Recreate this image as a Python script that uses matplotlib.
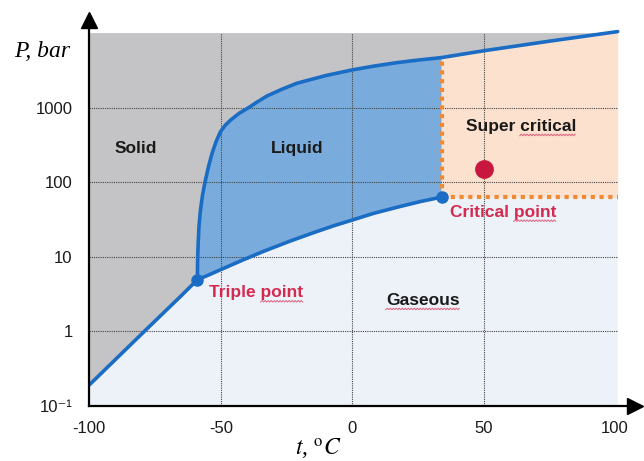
import matplotlib
matplotlib.use("Agg")
import matplotlib.pyplot as plt
from matplotlib.transforms import IdentityTransform
import numpy as np

plt.rcParams['mathtext.fontset'] = 'stix'

# CO2 phase diagram, temperature in degC, pressure in bar
triple_pt = (-58.9, 4.9)
critical_pt = (34.0, 63.0)
marker_pt = (50.0, 150.0)

subl_t = [-100.0, -79.0, -65.0, -58.9]
subl_p = [0.19, 1.0, 3.0, 4.9]

vap_t = [-58.9, -55.0, -50.0, -42.0, -33.7, -24.0, -14.7, -7.0, 0.0, 8.0, 17.0, 26.0, 34.0]
vap_p = [4.9, 5.6, 6.7, 8.9, 11.8, 16.0, 21.0, 26.0, 31.0, 38.0, 46.0, 55.0, 63.0]

melt_t = [-58.9, -58.8, -58.6, -58.3, -57.8, -57.0, -56.0, -54.7, -53.3, -51.8,
          -50.1, -48.3, -46.3, -43.0, -39.4, -36.0, -32.4, -27.0, -21.0, -10.0,
          0.0, 8.0, 17.0, 25.0, 34.0, 50.0, 75.0, 101.0]
melt_p = [4.9, 9.0, 15.0, 25.0, 40.0, 65.0, 100.0, 160.0, 244.0, 350.0,
          476.0, 580.0, 680.0, 840.0, 1000.0, 1200.0, 1435.0, 1750.0, 2130.0, 2700.0,
          3210.0, 3600.0, 4020.0, 4350.0, 4700.0, 5800.0, 7800.0, 10500.0]

x_ticks = [-100, -50, 0, 50, 100]
y_ticks = [0.1, 1, 10, 100, 1000]
y_labels = ['10\u207b\u00b9', '1', '10', '100', '1000']
x_grid = [-50, 0, 50]
y_grid = [1, 10, 100, 1000]

t_min, t_max = -100.0, 101.0
p_min, p_top = 0.1, 1e4

c_gas = '#edf2f8'
c_solid = '#c4c4c6'
c_liquid = '#79acdc'
c_super = '#fce1cf'
c_line = '#1a6cc4'
c_orange = '#ee8a35'
c_red = '#d42a50'

fig = plt.figure(figsize=(6.44, 4.61), dpi=100)
ax = fig.add_axes([0.1387, 0.1200, 0.8474, 0.8367])
ax.set_yscale('log')
ax.set_xlim(-100, 107.6)
ax.set_ylim(0.1, 10 ** 4.177)

# gaseous background
ax.fill_between([t_min, t_max], p_min, p_top, color=c_gas, lw=0, zorder=0)

# solid region: left of sublimation + melting curves
sx = subl_t + melt_t[1:] + [t_max, t_min]
sy = subl_p + melt_p[1:] + [p_top, p_top]
sy = [min(v, p_top) for v in sy]
ax.fill(sx, sy, color=c_solid, lw=0, zorder=1)

# liquid region
melt_t_arr = np.array(melt_t)
melt_p_arr = np.array(melt_p)
m_lo = melt_t_arr <= critical_pt[0]
lx = list(melt_t_arr[m_lo]) + [critical_pt[0]] + vap_t[::-1]
ly = list(melt_p_arr[m_lo]) + [critical_pt[1]] + vap_p[::-1]
ax.fill(lx, ly, color=c_liquid, lw=0, zorder=1)

# supercritical region
m_hi = melt_t_arr >= critical_pt[0]
ax.fill_between(melt_t_arr[m_hi], critical_pt[1], np.minimum(melt_p_arr[m_hi], p_top),
                color=c_super, lw=0, zorder=1)

# grid
for gx in x_grid:
    ax.plot([gx, gx], [p_min, p_top], color='#444444', lw=0.8,
            ls=(0, (1, 1)), zorder=2)
for gy in y_grid:
    ax.plot([t_min, t_max], [gy, gy], color='#444444', lw=0.8,
            ls=(0, (1, 1)), zorder=2)

# dotted boundaries of the supercritical zone
ax.plot([critical_pt[0], t_max], [critical_pt[1], critical_pt[1]],
        color=c_orange, lw=3, ls=(0, (1, 1.1)), zorder=3)
ax.plot([critical_pt[0], critical_pt[0]], [critical_pt[1], 4600],
        color=c_orange, lw=3, ls=(0, (1, 1.1)), zorder=3)

# phase boundaries
for xs, ys in [(subl_t, subl_p), (vap_t, vap_p), (melt_t, melt_p)]:
    ax.plot(xs, ys, color=c_line, lw=2.6, zorder=4,
            solid_capstyle='round', solid_joinstyle='round')

ax.plot(*triple_pt, 'o', color=c_line, ms=8, zorder=5)
ax.plot(*critical_pt, 'o', color=c_line, ms=8, zorder=5)
ax.plot(*marker_pt, 'o', color='#c8163e', ms=12.5, zorder=5)

lab = dict(fontsize=12.5, fontweight='bold', family=['Liberation Sans', 'DejaVu Sans'],
           ha='center', va='baseline', zorder=6)
labels = [
    (-82.2, 247, 'Solid', '#1a1a1a', None),
    (-20.8, 247, 'Liquid', '#1a1a1a', None),
    (64.1, 487, 'Super critical', '#1a1a1a', 'critical'),
    (26.8, 2.25, 'Gaseous', '#1a1a1a', 'Gaseous'),
    (57.4, 34.4, 'Critical point', c_red, 'point'),
    (-36.5, 2.85, 'Triple point', c_red, 'point'),
]

renderer = fig.canvas.get_renderer()


def squiggle(txt, word):
    # thin red wavy underline below one word of a label
    s = txt.get_text()
    i = s.index(word)
    bb = txt.get_window_extent(renderer)
    probe = ax.text(0, 0, s[:i], fontsize=12.5, fontweight='bold',
                    family=['Liberation Sans', 'DejaVu Sans'])
    pre = probe.get_window_extent(renderer).width if i else 0
    probe.set_text(word)
    w = probe.get_window_extent(renderer).width
    probe.remove()
    x0 = bb.x0 + pre
    xb, yb = ax.transData.transform(txt.get_position())
    xs = np.arange(x0, x0 + w + 0.1, 1.5)
    ys = yb - 4 + 0.8 * ((np.arange(len(xs)) % 2) * 2 - 1)
    ax.plot(xs, ys, color='#e0607e', lw=0.7, transform=IdentityTransform(),
            zorder=6, clip_on=False)


for x, y, s, col, word in labels:
    t = ax.text(x, y, s, color=col, **lab)
    if word:
        squiggle(t, word)

# axes with arrow heads
for side in ['top', 'right']:
    ax.spines[side].set_visible(False)
for side in ['left', 'bottom']:
    ax.spines[side].set_linewidth(1.6)
    ax.spines[side].set_zorder(7)
ax.plot(0, 1, marker='^', ms=11, color='k', transform=ax.transAxes,
        clip_on=False, zorder=8)
ax.plot(1, 0, marker='>', ms=11, color='k', transform=ax.transAxes,
        clip_on=False, zorder=8)

ax.set_xticks(x_ticks)
ax.set_xticklabels([str(v) for v in x_ticks])
ax.set_yticks(y_ticks)
ax.set_yticklabels(y_labels)
ax.yaxis.set_minor_locator(matplotlib.ticker.NullLocator())
ax.tick_params(axis='x', length=0, pad=11, labelsize=12)
ax.tick_params(axis='y', length=0, pad=12, labelsize=12)
for t in ax.get_xticklabels() + ax.get_yticklabels():
    t.set_family(['Liberation Sans', 'DejaVu Sans'])
    t.set_color('#1a1a1a')

fig.text(42.5 / 644, 1 - 57 / 461, 'P, bar', fontsize=17, style='italic',
         family='Liberation Serif', ha='center', va='baseline')
fig.text(318 / 644, 1 - 456 / 461, r'$t$, $^{\mathrm{o}}C$', fontsize=17,
         family='Liberation Serif', ha='center', va='baseline')

fig.savefig('out.png', dpi=100)
